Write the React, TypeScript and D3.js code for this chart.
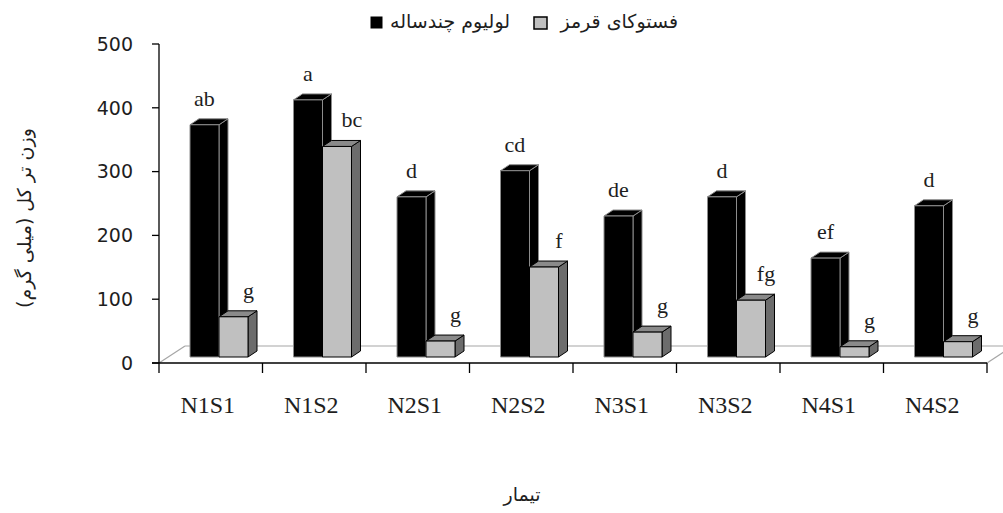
import * as d3 from "d3";

const WIDTH = 1003;
const HEIGHT = 513;

// treatments on the x axis
const categories = ["N1S1", "N1S2", "N2S1", "N2S2", "N3S1", "N3S2", "N4S1", "N4S2"];
const seriesNames = ["لولیوم چندساله", "فستوکای قرمز"];
// fresh weight (mg)
const loliumValues = [364, 403, 251, 292, 221, 251, 155, 237];
const festucaValues = [63, 330, 25, 141, 39, 89, 16, 24];
// Duncan letters above the bars
const loliumLetters = ["ab", "a", "d", "cd", "de", "d", "ef", "d"];
const festucaLetters = ["g", "bc", "g", "f", "g", "fg", "g", "g"];
const yTicks = [0, 100, 200, 300, 400, 500];

const PLOT = { left: 159, right: 987, top: 44, bottom: 363 };
// 3d look: bar depth and floor depth
const BAR_DX = 9;
const BAR_DY = -6;
const BAR_LIFT = 6;
const FLOOR_DX = 26;
const FLOOR_DY = -17;

const SERIF = "'Liberation Serif', 'Times New Roman', serif";
const SANS = "'DejaVu Sans', Verdana, sans-serif";
const TEXT = "#1e1e1e";

const seriesStyle = [
  { front: "#000000", top: "#000000", side: "#000000", stroke: "#8c8c8c" },
  { front: "#c0c0c0", top: "#8a8a8a", side: "#6c6c6c", stroke: "#000000" },
];

type Bar = { cat: string; series: number; value: number; letter: string };

export default function App() {
  const yScale = d3.scaleLinear().domain([0, 500]).range([PLOT.bottom, PLOT.top]);
  const xScale = d3.scaleBand<string>().domain(categories).range([PLOT.left, PLOT.right]).padding(0);
  const inner = d3.scaleBand<number>().domain([0, 1]).range([31, 89]).padding(0);

  const bars: Bar[] = [];
  categories.forEach((c, i) => {
    bars.push({ cat: c, series: 0, value: loliumValues[i], letter: loliumLetters[i] });
    bars.push({ cat: c, series: 1, value: festucaValues[i], letter: festucaLetters[i] });
  });

  const bw = inner.bandwidth();
  const poly = (pts: [number, number][]) => pts.map((p) => p.join(",")).join(" ");

  return (
    <svg
      width={WIDTH}
      height={HEIGHT}
      style={{ position: "absolute", left: 0, top: 0, background: "#fff" }}
    >
      {/* floor */}
      <g fill="none" stroke="#a6a6a6" strokeWidth={1.2}>
        <line x1={PLOT.left} y1={PLOT.bottom} x2={PLOT.left + FLOOR_DX} y2={PLOT.bottom + FLOOR_DY} />
        <line x1={PLOT.left + FLOOR_DX} y1={PLOT.bottom + FLOOR_DY} x2={WIDTH} y2={PLOT.bottom + FLOOR_DY} />
        <line x1={PLOT.right} y1={PLOT.bottom} x2={PLOT.right + FLOOR_DX} y2={PLOT.bottom + FLOOR_DY} />
      </g>

      {/* bars */}
      {bars.map((b, i) => {
        const s = seriesStyle[b.series];
        const x = (xScale(b.cat) as number) + (inner(b.series) as number);
        const yTop = yScale(b.value) - BAR_LIFT;
        const yBot = yScale(0) - BAR_LIFT;
        return (
          <g key={i} stroke={s.stroke} strokeWidth={1} strokeLinejoin="round">
            <polygon
              points={poly([[x + bw, yTop], [x + bw + BAR_DX, yTop + BAR_DY], [x + bw + BAR_DX, yBot + BAR_DY], [x + bw, yBot]])}
              fill={s.side}
            />
            <polygon
              points={poly([[x, yTop], [x + BAR_DX, yTop + BAR_DY], [x + bw + BAR_DX, yTop + BAR_DY], [x + bw, yTop]])}
              fill={s.top}
            />
            <rect x={x} y={yTop} width={bw} height={yBot - yTop} fill={s.front} />
          </g>
        );
      })}

      {/* letters */}
      {bars.map((b, i) => {
        const x = (xScale(b.cat) as number) + (inner(b.series) as number) + bw / 2 + (b.series === 1 ? 15 : 0);
        const y = yScale(b.value) - BAR_LIFT - 19;
        return (
          <text key={i} x={x} y={y} textAnchor="middle" fontFamily={SERIF} fontSize={22} fill={TEXT}>
            {b.letter}
          </text>
        );
      })}

      {/* y axis */}
      <g stroke="#000" strokeWidth={1.3}>
        <line x1={PLOT.left} y1={PLOT.top} x2={PLOT.left} y2={PLOT.bottom + 10} />
        {yTicks.map((t) => (
          <line key={t} x1={PLOT.left - 7} y1={yScale(t)} x2={PLOT.left} y2={yScale(t)} />
        ))}
      </g>
      {yTicks.map((t) => (
        <text
          key={t}
          x={133}
          y={yScale(t)}
          dy="0.36em"
          textAnchor="end"
          fontFamily={SANS}
          fontSize={19}
          fill={TEXT}
        >
          {t}
        </text>
      ))}

      {/* x axis */}
      <g stroke="#000" strokeWidth={1.3}>
        <line x1={PLOT.left - 7} y1={PLOT.bottom} x2={PLOT.right} y2={PLOT.bottom} />
        {categories.map((c) => (
          <line
            key={c}
            x1={(xScale(c) as number) + xScale.bandwidth()}
            y1={PLOT.bottom}
            x2={(xScale(c) as number) + xScale.bandwidth()}
            y2={PLOT.bottom + 10}
          />
        ))}
      </g>
      {categories.map((c) => (
        <text
          key={c}
          x={(xScale(c) as number) + xScale.bandwidth() / 2 - 3}
          y={413}
          textAnchor="middle"
          fontFamily={SERIF}
          fontSize={24}
          fill={TEXT}
        >
          {c}
        </text>
      ))}

      {/* axis titles */}
      <text x={522} y={501} textAnchor="middle" fontFamily={SANS} fontSize={19} fill={TEXT}>
        تیمار
      </text>
      <text
        transform="translate(31,218) rotate(-90)"
        textAnchor="middle"
        fontFamily={SANS}
        fontSize={19}
        fill={TEXT}
      >
        وزن تر کل (میلی گرم)
      </text>

      {/* legend */}
      <g>
        <rect x={371} y={17} width={11} height={11} fill="#000" stroke="#000" />
        <text x={510} y={28} textAnchor="end" fontFamily={SANS} fontSize={19} fill={TEXT}>
          {seriesNames[0]}
        </text>
        <rect x={534} y={17} width={13} height={12} fill="#c0c0c0" stroke="#000" strokeWidth={1.5} />
        <text x={678} y={28} textAnchor="end" fontFamily={SANS} fontSize={19} fill={TEXT}>
          {seriesNames[1]}
        </text>
      </g>
    </svg>
  );
}
